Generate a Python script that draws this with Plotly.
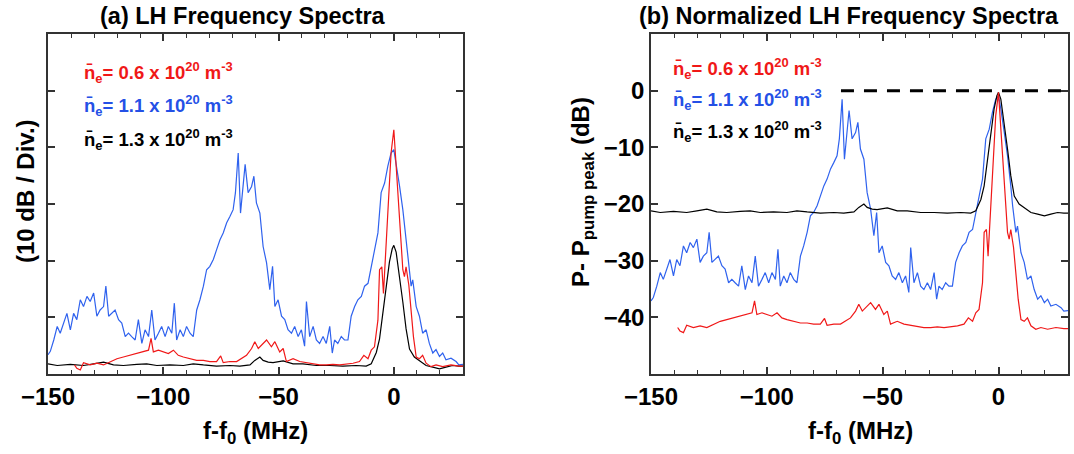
import plotly.graph_objects as go

# ---------------- data ----------------
# frequency offset f - f0 (MHz) and normalized power P - P_pump_peak (dB)
blue_f = [-150, -149, -147.5, -146, -144.7, -143.2, -141.8, -140.3, -138.9, -137.5, -136, -134.6, -133.1,
          -131.7, -130.2, -128.8, -127.4, -125.9, -124.9, -123.7, -122.3, -120.9, -119.4, -118, -116.5,
          -115.1, -113.7, -112.2, -110.8, -109.3, -107.9, -106.4, -105, -103.6, -102.1, -100.7, -99.2,
          -97.8, -96.3, -95.2, -94.2, -92.7, -91.3, -89.9, -88.4, -87, -85.5, -84.1, -82.6, -81.2, -79.8,
          -78.3, -76.9, -75.4, -74, -72.5, -71.1, -69.7, -68.7, -67.5, -66.5, -65.3, -64.5, -63.2, -61.7,
          -60.7, -59.6, -58.1, -56.7, -55.2, -53.8, -52.6, -51.6, -50.2, -48.7, -47.3, -45.9, -44.4, -43,
          -41.5, -40.1, -38.7, -37.9, -36.5, -35, -33.6, -32.2, -30.7, -29.3, -27.8, -26.7, -25.7, -24.3,
          -22.8, -21.4, -19.9, -18.5, -17, -15.6, -14.1, -12.7, -11.2, -9.8, -8.4, -6.9, -5.5, -4.0, -2.6,
          -1.2, 0, 1.0, 2.5, 3.9, 5.3, 6.1, 7.5, 8.2, 9.7, 11.1, 12.5, 14.0, 15.4, 16.9, 18.3, 19.8, 21.2,
          22.6, 24.8, 27, 28.2, 30]
blue_db = [-37.1, -36.5, -34.5, -32.1, -33.3, -31.5, -29.8, -32.7, -29.8, -30.9, -27.4, -28.6, -26.8,
           -27.7, -26.2, -30.3, -29.2, -28.6, -25.0, -30.3, -29.8, -29.2, -30.9, -31.5, -33.9,
           -33.3, -33.9, -34.5, -30.9, -35.1, -32.7, -33.9, -29.2, -34.5, -33.3, -32.1, -33.9,
           -32.1, -33.3, -28.0, -34.5, -32.7, -33.9, -32.1, -33.3, -33.9, -29.2, -27.4, -25.0, -22.1, -21.5,
           -20.3, -18.6, -16.8, -15.6, -13.8, -12.7, -11.5, -8.5, -1.5, -12.1, -7.4, -3.5, -8.5, -7.4,
           -5.6, -10.3, -12.1, -18.0, -20.9, -25.6, -21.5, -28.6, -27.4, -30.3, -30.9, -32.7, -33.3, -32.1,
           -33.9, -32.7, -35.6, -27.7, -33.9, -32.1, -34.5, -35.1, -33.9, -35.1, -32.1, -36.8, -34.5, -35.1,
           -33.9, -34.5, -34.5, -30.3, -28.6, -27.4, -26.8, -25.0, -24.5, -21.5, -19.2, -15.6, -8.5, -6.8, -3.8,
           -1.5, -0.9, -3.2, -7.4, -11.5, -16.8, -20.3, -25.0, -23.9, -28.6, -30.3, -33.3, -32.7, -35.1, -36.8,
           -36.2, -37.4, -36.8, -38.0, -37.7, -38.3, -38.9, -38.8]

red_f = [-138.5, -137.5, -136.0, -134.6, -131.7, -128.8, -125.9, -123, -120.1, -117.3, -114.4, -111.5,
         -108.6, -106.4, -105.3, -104.3, -102.1, -100, -97.8, -95.6, -93.5, -91.3, -88.4, -85.5, -82.6,
         -79.8, -76.9, -75.1, -74, -71.1, -68.2, -66.1, -63.9, -61.7, -60.3, -58.8, -57.4, -55.2, -53.1,
         -51.6, -49.5, -48, -46.6, -43.7, -40.8, -37.9, -35, -32.2, -29.3, -26.4, -23.5, -20.6, -17.7,
         -14.9, -13, -11.2, -9.8, -8.4, -6.9, -6.2, -5.2, -4.5, -3.3, -2.2, -1.2, 0, 1.0, 2.2, 3.2, 3.9,
         4.6, 5.3, 6.5, 7.5, 8.5, 9.7, 11.1, 12.5, 14.0, 16.1, 18.3, 21.2, 24.8, 28.2, 30]
red_db = [-41.8, -42.4, -42.7, -41.4, -41.8, -41.5, -41.8, -41.2, -40.7, -40.4, -40.1, -39.8,
          -39.5, -39.2, -37.1, -39.5, -39.2, -39.5, -39.8, -39.2, -40.1, -40.4, -40.7, -41.0, -41.0,
          -41.2, -41.2, -40.2, -41.4, -41.2, -41.2, -40.7, -40.1, -38.9, -37.7, -38.9, -38.3, -37.4, -38.6,
          -37.7, -39.5, -38.9, -41.2, -40.7, -41.2, -41.4, -41.5, -41.8, -41.8, -41.7, -41.8, -41.7, -41.5,
          -41.2, -40.1, -40.7, -39.2, -38.6, -33.9, -25.0, -24.5, -29.2, -20.3, -10.3, -4.4, -0.3, -6.2,
          -14.4, -19.2, -25.0, -26.2, -24.5, -27.7, -32.1, -36.8, -40.4, -40.7, -40.1, -41.5, -42.1, -41.8,
          -42.1, -41.8, -42.0, -42.0]

black_f = [-150, -146, -140.3, -134.6, -130.2, -125.9, -121.6, -117.3, -111.5, -107.2, -102.8, -97.1,
           -91.3, -87, -82.6, -76.9, -71.1, -66.8, -62.4, -60.3, -58.1, -56.7, -54.5, -52.4, -48, -43.7,
           -39.4, -33.6, -27.8, -22.1, -16.3, -12, -9.8, -7.6, -6.2, -4.8, -3.3, -1.9, -0.7, 0, 1.0, 2.5,
           3.9, 5.3, 6.8, 8.9, 11.1, 14.0, 16.9, 19.8, 22.6, 25.5, 28.2, 30]
black_db = [-21.2, -21.5, -21.3, -21.5, -21.2, -20.9, -21.4, -21.5, -21.3, -21.2, -21.5, -21.4,
            -21.5, -21.2, -21.4, -21.6, -21.5, -21.6, -21.4, -20.6, -20.0, -20.6, -20.9, -21.0, -20.7, -21.2,
            -21.2, -21.5, -21.5, -21.6, -21.5, -21.6, -21.2, -19.2, -16.8, -12.1, -7.4, -3.2, -0.9, -0.3, -1.5,
            -5.6, -10.3, -15.0, -18.6, -20.0, -20.6, -21.5, -21.8, -22.1, -21.8, -21.5, -21.6, -21.6]

# absolute pump-peak levels used in panel (a) (arbitrary dB reference)
pump_peak_db = {"red": 43.4, "blue": 40.5, "black": 23.0}

# zero-dB reference line of panel (b)
ref_x = [-68, 30]
ref_y = [0, 0]

labels = {
    "red": "n̄<sub>e</sub>= 0.6 x 10<sup>20</sup> m<sup>-3</sup>",
    "blue": "n̄<sub>e</sub>= 1.1 x 10<sup>20</sup> m<sup>-3</sup>",
    "black": "n̄<sub>e</sub>= 1.3 x 10<sup>20</sup> m<sup>-3</sup>",
}
x_ticks = [-150, -100, -50, 0]
a_yticks = [10, 20, 30, 40, 50]
b_yticks = [-40, -30, -20, -10, 0]

# ---------------- styling ----------------
W, H = 1074, 454
FONT = "Liberation Sans, Arial, sans-serif"
col = {"red": "#f01818", "blue": "#2f62ee", "black": "#000000"}
txtcol = {"red": "#f01818", "blue": "#2450e6", "black": "#000000"}
FRAME = "#333333"

def px(x):
    return x / W

def py(y):
    return 1 - y / H

fig = go.Figure()

series = {"blue": (blue_f, blue_db), "black": (black_f, black_db), "red": (red_f, red_db)}
for name, (fx, fy) in series.items():
    fig.add_trace(go.Scatter(x=fx, y=[v + pump_peak_db[name] for v in fy], mode="lines",
                             line=dict(color=col[name], width=1.2), xaxis="x", yaxis="y",
                             showlegend=False, hoverinfo="skip"))
fig.add_trace(go.Scatter(x=ref_x, y=ref_y, mode="lines", line=dict(color="black", width=3, dash="13px,10px"),
                         xaxis="x2", yaxis="y2", showlegend=False, hoverinfo="skip"))
for name, (fx, fy) in series.items():
    fig.add_trace(go.Scatter(x=fx, y=fy, mode="lines", line=dict(color=col[name], width=1.2),
                             xaxis="x2", yaxis="y2", showlegend=False, hoverinfo="skip"))

tickfont = dict(family=FONT, size=24, color="black", weight="bold")

def xax(domain, anchor):
    return dict(domain=domain, anchor=anchor, range=[-150, 30], tickvals=x_ticks, automargin=False,
                ticks="inside", ticklen=7, tickwidth=1.5, tickcolor=FRAME,
                minor=dict(tick0=0, dtick=10, ticks="inside", ticklen=4, tickwidth=1.2, tickcolor=FRAME),
                showline=True, linecolor=FRAME, linewidth=1.5, mirror="allticks",
                showgrid=False, zeroline=False, tickfont=tickfont)

def yax(domain, anchor, rng, tv, labels_on):
    return dict(domain=domain, anchor=anchor, range=rng, tickvals=tv, showticklabels=labels_on,
                automargin=False,
                ticks="inside", ticklen=7, tickwidth=1.5, tickcolor=FRAME,
                showline=True, linecolor=FRAME, linewidth=1.5, mirror="allticks",
                showgrid=False, zeroline=False, tickfont=tickfont)

ydom = [py(374), py(34)]
fig.update_layout(
    template="none",
    width=W, height=H, margin=dict(l=0, r=0, t=0, b=0, autoexpand=False),
    paper_bgcolor="white", plot_bgcolor="white",
    xaxis=xax([px(48), px(463)], "y"),
    yaxis=yax(ydom, "x", [0, 60], a_yticks, False),
    xaxis2=xax([px(651), px(1068)], "y2"),
    yaxis2=yax(ydom, "x2", [-50, 10], b_yticks, True),
)

ann = []
title_font = dict(family=FONT, size=23.5, color="black", weight="bold")
ann.append(dict(text="(a) LH Frequency Spectra", x=px(243), y=py(16), xref="paper", yref="paper",
                xanchor="center", yanchor="middle", showarrow=False, font=title_font))
ann.append(dict(text="(b) Normalized LH Frequency Spectra", x=px(849), y=py(16), xref="paper", yref="paper",
                xanchor="center", yanchor="middle", showarrow=False, font=title_font))
axt_font = dict(family=FONT, size=24, color="black", weight="bold")
ann.append(dict(text="f-f<sub>0</sub> (MHz)", x=px(255), y=py(432), xref="paper", yref="paper",
                xanchor="center", yanchor="middle", showarrow=False, font=axt_font))
ann.append(dict(text="f-f<sub>0</sub> (MHz)", x=px(860), y=py(432), xref="paper", yref="paper",
                xanchor="center", yanchor="middle", showarrow=False, font=axt_font))
ann.append(dict(text="(10 dB / Div.)", x=px(25), y=py(191), xref="paper", yref="paper", textangle=-90,
                xanchor="center", yanchor="middle", showarrow=False, font=axt_font))
ann.append(dict(text="P- P<sub>pump peak</sub> (dB)", x=px(583), y=py(192), xref="paper", yref="paper",
                textangle=-90, xanchor="center", yanchor="middle", showarrow=False, font=axt_font))

leg_font = 18.5
for i, name in enumerate(["red", "blue", "black"]):
    ya = [72, 105, 139][i]
    yb = [68, 99, 131][i]
    ann.append(dict(text=labels[name], x=px(82), y=py(ya), xref="paper", yref="paper",
                    xanchor="left", yanchor="middle", showarrow=False,
                    font=dict(family=FONT, size=leg_font, color=txtcol[name], weight="bold")))
    ann.append(dict(text=labels[name], x=px(671), y=py(yb), xref="paper", yref="paper",
                    xanchor="left", yanchor="middle", showarrow=False,
                    font=dict(family=FONT, size=leg_font, color=txtcol[name], weight="bold")))
fig.update_layout(annotations=ann)

fig.write_html("out.html")
